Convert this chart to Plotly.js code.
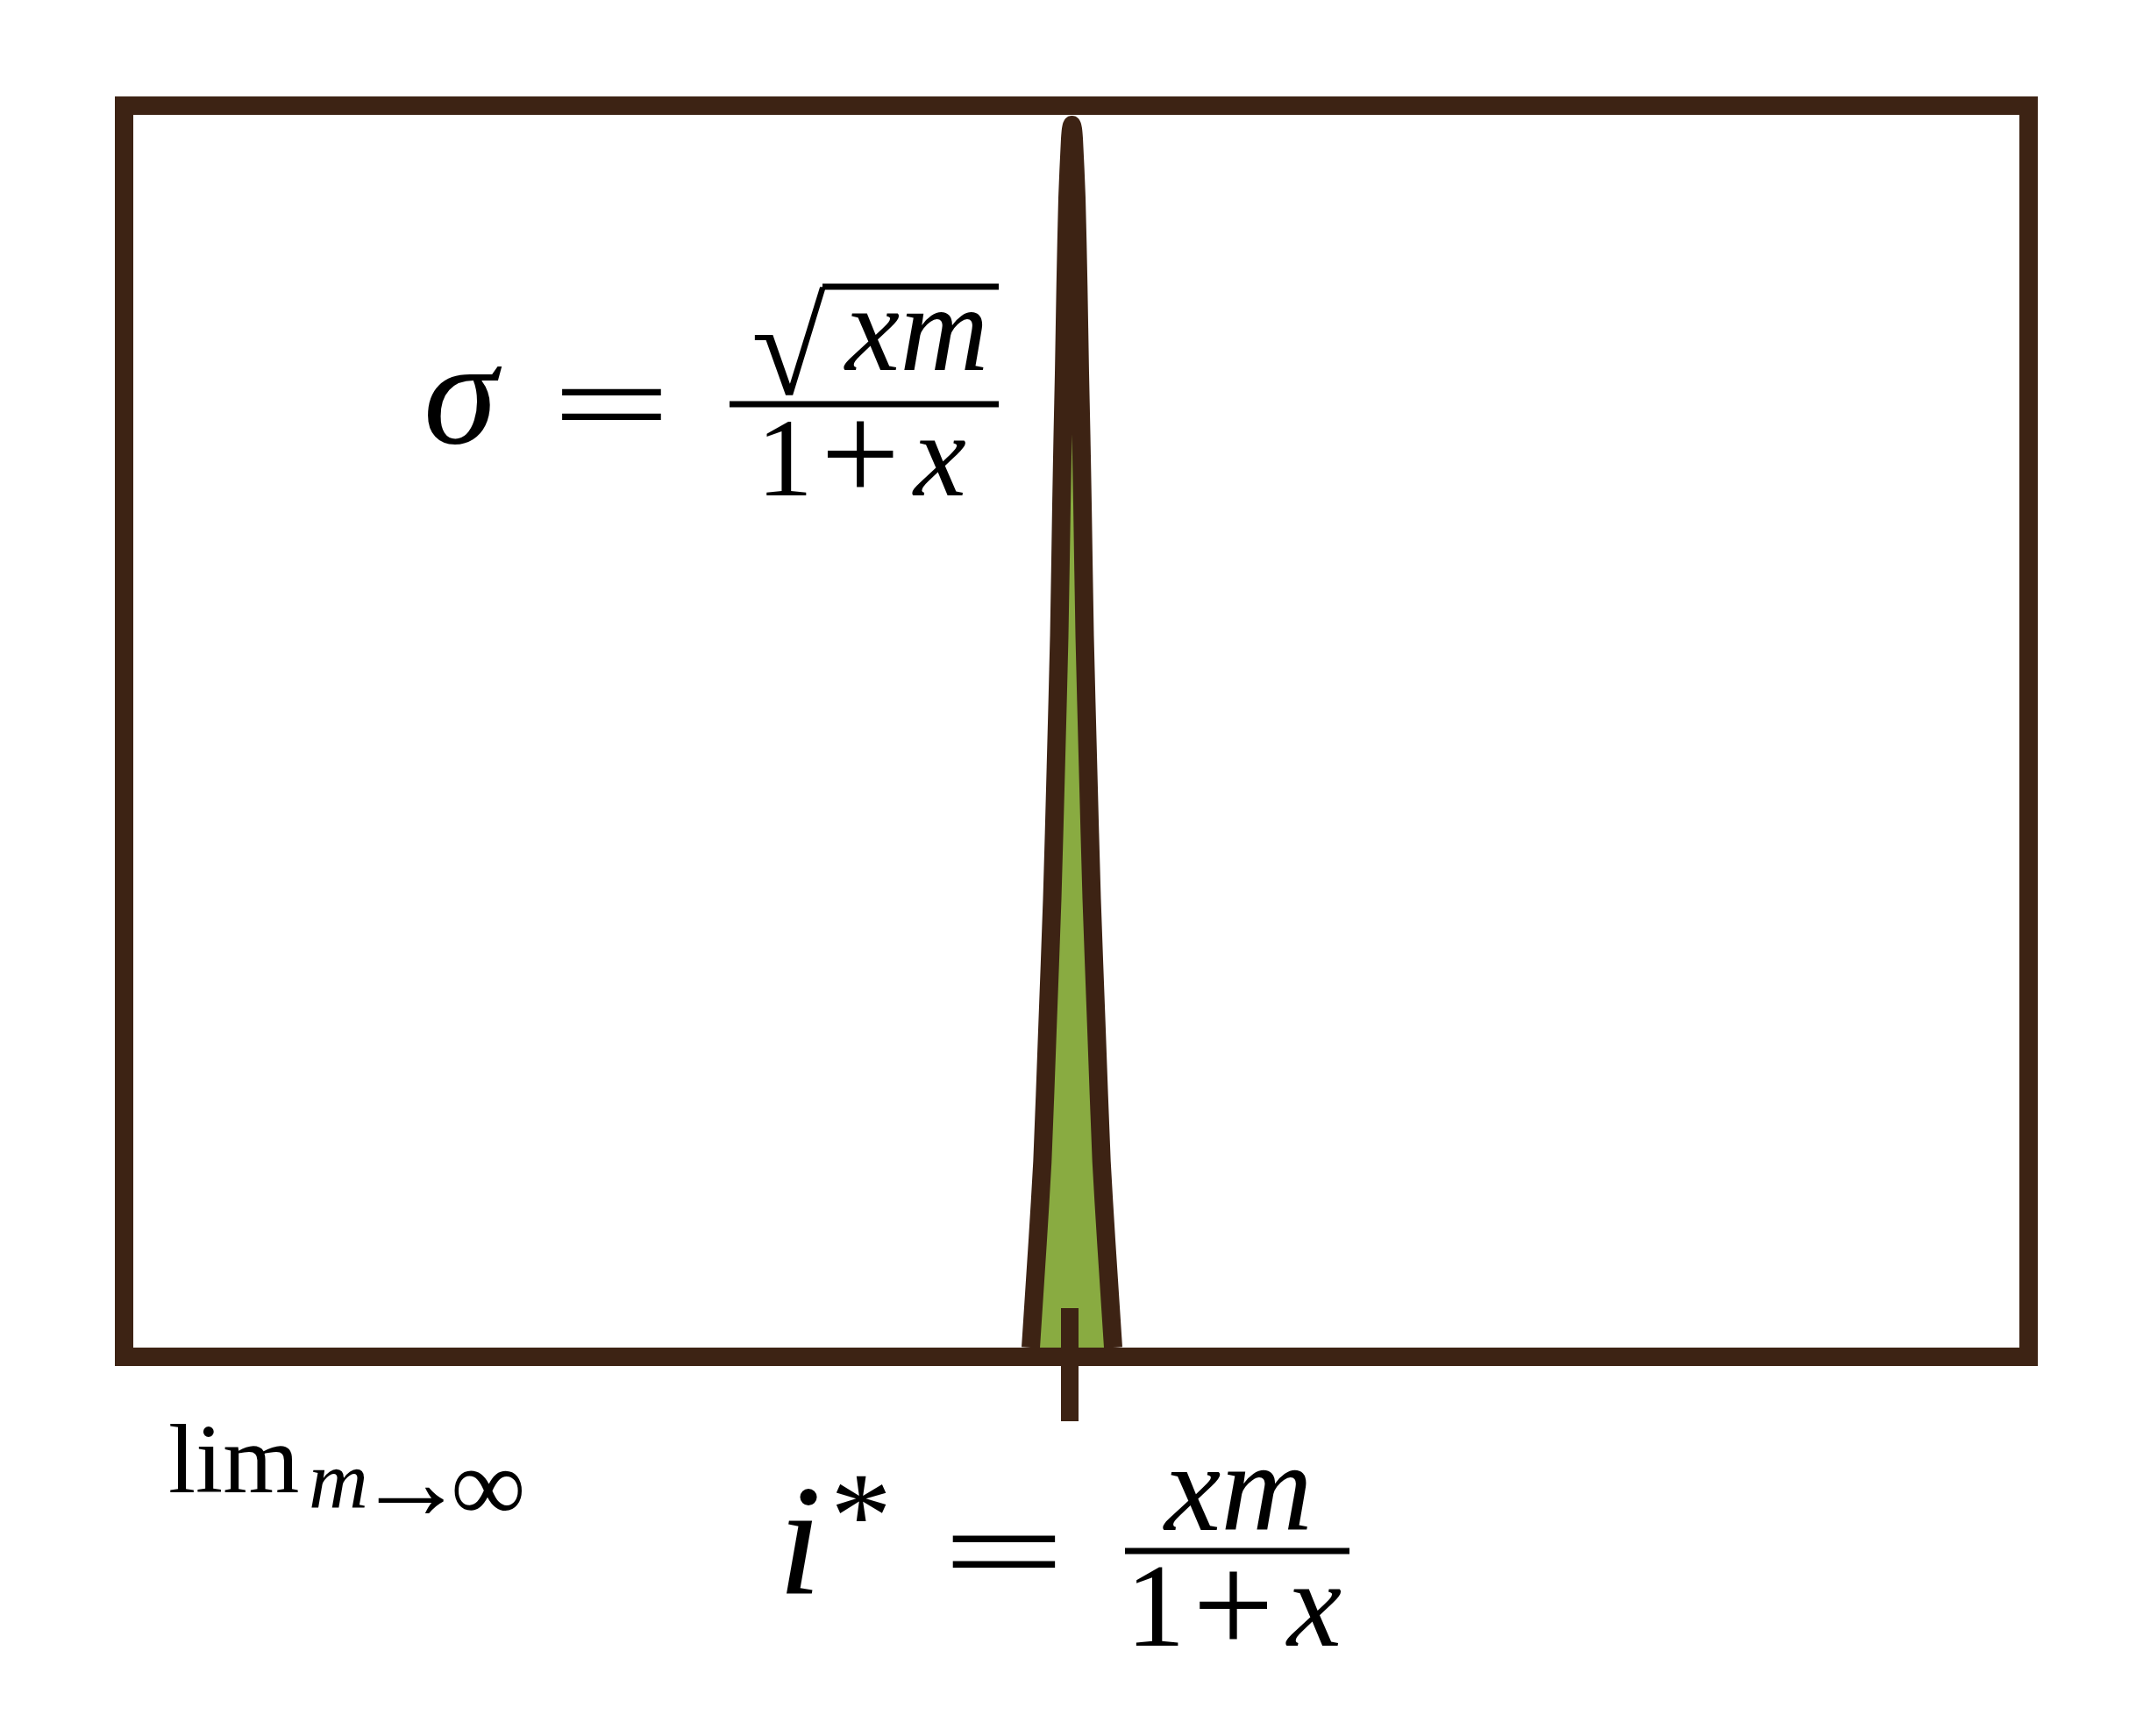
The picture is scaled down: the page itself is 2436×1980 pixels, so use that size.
<!DOCTYPE html>
<html>
<head>
<meta charset="utf-8">
<script src="https://cdn.plot.ly/plotly-3.0.1.min.js"></script>
<style>html,body{margin:0;padding:0;background:#fff;}#chart{width:2436px;height:1980px;}</style>
</head>
<body>
<div id="chart"></div>
<script>
// ---- data (x: fraction of axis, y: fraction of axis height) ----
var curveX = [0.47583, 0.47946, 0.48201, 0.48466, 0.48722, 0.48915, 0.49094, 0.49210, 0.49280, 0.49350, 0.49431, 0.49536, 0.49675, 0.49722, 0.49768,
              0.49814, 0.49861, 0.50000, 0.50105, 0.50186, 0.50256, 0.50326, 0.50442, 0.50621, 0.50814, 0.51070, 0.51335, 0.51590, 0.51953];
var curveY = [0.0000, 0.0853, 0.1508, 0.2575, 0.3642, 0.4708, 0.5775, 0.6842, 0.7411, 0.7909, 0.8620, 0.9331, 0.9808, 0.9886, 0.9918,
              0.9886, 0.9808, 0.9331, 0.8620, 0.7909, 0.7411, 0.6842, 0.5775, 0.4708, 0.3642, 0.2575, 0.1508, 0.0853, 0.0000];
var tickValues = [0.4965];   // i*

var BROWN = '#3d2314';
var GREEN = '#89ab41';

// layout geometry (pixels)
var W = 2436, H = 1980;
var ML = 152, MR = 133, MT = 131, MB = 443;
var PW = W - ML - MR, PH = H - MT - MB;
function px(x) { return (x - ML) / PW; }
function py(y) { return (H - MB - y) / PH; }

var SERIF = 'Liberation Serif, Times New Roman, serif';
var EQF = 'DejaVu Sans, DejaVu Serif, sans-serif';
function ann(text, cx, baseline, size, anchor, fam, weight) {
  var cy = baseline - 0.3375 * size;
  var f = {family: fam || SERIF, size: size, color: '#000'};
  if (weight) f.weight = weight;
  return {
    text: text, xref: 'paper', yref: 'paper',
    x: px(cx), y: py(cy), xanchor: anchor || 'center', yanchor: 'middle',
    showarrow: false, font: f
  };
}
function hline(x0, x1, y, w) {
  return {type: 'line', xref: 'paper', yref: 'paper', x0: px(x0), x1: px(x1), y0: py(y), y1: py(y),
          line: {color: '#000', width: w}};
}

var traces = [{
  type: 'scatter', mode: 'lines', x: curveX, y: curveY,
  fill: 'tozeroy', fillcolor: GREEN,
  line: {color: BROWN, width: 21, shape: 'spline', smoothing: 0.6},
  hoverinfo: 'skip', showlegend: false
}, {
  // empty trace so the inside-tick axis (x2) is drawn
  type: 'scatter', mode: 'lines', x: [], y: [], xaxis: 'x2', yaxis: 'y', showlegend: false, hoverinfo: 'skip'
}];

var layout = {
  width: W, height: H,
  margin: {l: ML, r: MR, t: MT, b: MB, pad: 0},
  paper_bgcolor: '#fff', plot_bgcolor: '#fff',
  showlegend: false,
  xaxis: {range: [0, 1], showline: true, linewidth: 21, linecolor: BROWN, mirror: true,
          showgrid: false, zeroline: false, ticks: 'outside', tickmode: 'array', tickvals: tickValues,
          ticklen: 63, tickwidth: 20, tickcolor: BROWN, showticklabels: false, fixedrange: true},
  xaxis2: {range: [0, 1], overlaying: 'x', anchor: 'y', side: 'bottom', showline: false,
          showgrid: false, zeroline: false, ticks: 'inside', tickmode: 'array', tickvals: tickValues,
          ticklen: 45, tickwidth: 20, tickcolor: BROWN, showticklabels: false, fixedrange: true},
  yaxis: {range: [0, 1], showline: true, linewidth: 21, linecolor: BROWN, mirror: true,
          showgrid: false, zeroline: false, ticks: '', showticklabels: false, fixedrange: true},
  annotations: [
    // sigma = sqrt(xm) / (1+x)
    ann('<i>σ</i>', 528, 505, 170),
    ann('=', 697, 516, 180, 'center', EQF, 200),
    ann('√', 944, 450, 155, 'right'),
    ann('<i>xm</i>', 1044, 422, 140),
    ann('1', 895, 565, 128),
    ann('+', 981, 572, 160),
    ann('<i>x</i>', 1071, 565, 135),
    // i* = xm / (1+x)
    ann('<i>i</i>', 912, 1817, 180),
    ann('*', 982, 1775, 140),
    ann('=', 1145, 1826, 186, 'center', EQF, 200),
    ann('<i>xm</i>', 1411, 1745, 145),
    ann('1', 1318, 1877, 135),
    ann('+', 1406, 1886, 165),
    ann('<i>x</i>', 1498, 1877, 140),
    // lim m -> infinity
    ann('lim', 266, 1702, 112),
    ann('<i>m</i>', 386, 1720, 94),
    ann('→', 468, 1732, 125),
    ann('∞', 557, 1735, 120)
  ],
  shapes: [
    hline(832, 1139, 461, 7),
    hline(938, 1139, 327, 7),
    hline(1283, 1539, 1769, 7)
  ]
};

Plotly.newPlot('chart', traces, layout, {staticPlot: true, displayModeBar: false});
</script>
</body>
</html>
